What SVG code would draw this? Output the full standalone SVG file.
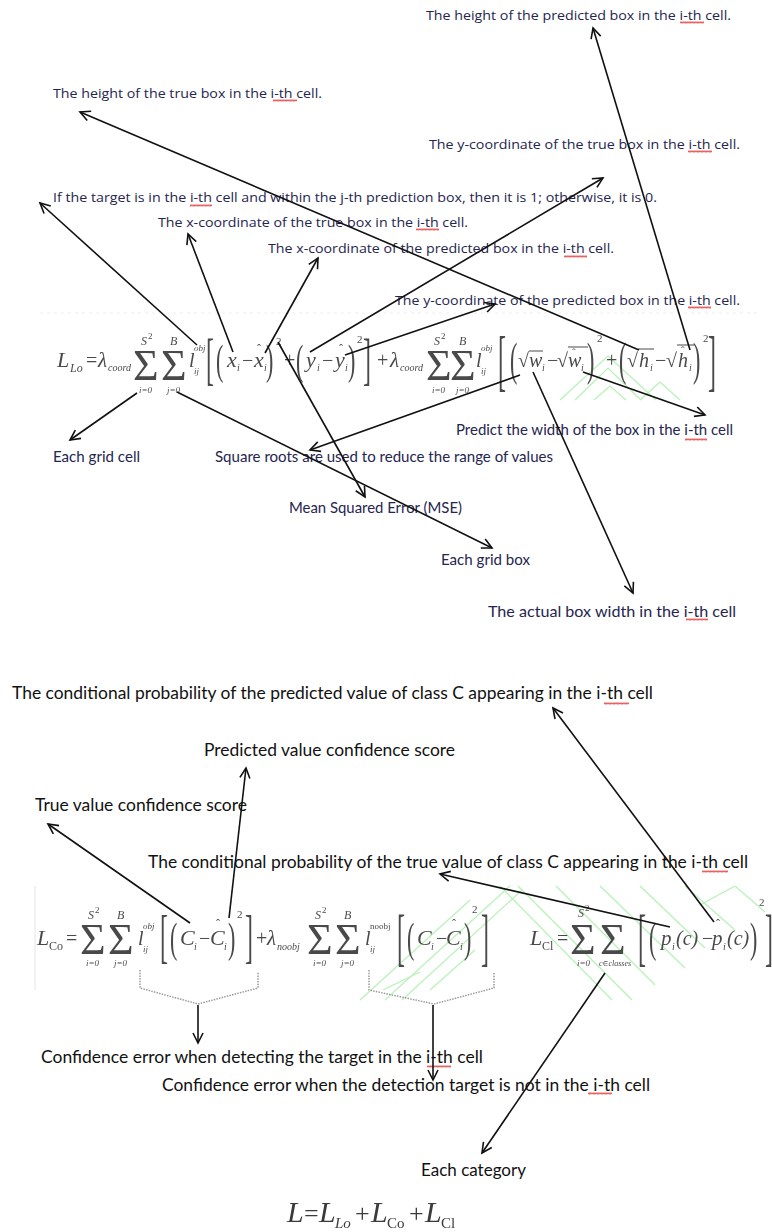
<svg xmlns="http://www.w3.org/2000/svg" width="772" height="1232" viewBox="0 0 772 1232">
<style>
.t1{font-family:"Open Sans","Noto Sans",sans-serif;font-size:13px;fill:#25254f}
.t2{font-family:Lato,"Liberation Sans",sans-serif;font-size:15px;fill:#25254f}
.t3{font-family:Lato,"Liberation Sans",sans-serif;font-size:16.5px;fill:#111}
.f text{font-family:"Liberation Serif","DejaVu Serif",serif;fill:#4a4a4a}
#formula-total text{fill:#3a3a3a}
.fi{font-style:italic}
.cn line{stroke:#111;stroke-width:1.6;fill:none}
.sq{fill:url(#wv)}
.gr{stroke:#b6f2b6;stroke-width:1.2;fill:none}
.brace{stroke:#9a9a9a;stroke-width:1.5;stroke-dasharray:1.5 1.2;fill:none}
.vin{stroke:#4a4a4a;stroke-width:1}
</style>
<defs>
<marker id="ah" markerWidth="14" markerHeight="14" refX="11" refY="6" orient="auto" markerUnits="userSpaceOnUse">
<path d="M1,1 L11,6 L1,11" fill="none" stroke="#111" stroke-width="1.6"/>
</marker>
<pattern id="wv" width="4" height="3" patternUnits="userSpaceOnUse">
<path d="M0,2.5 L1,0.5 L2,2.5 L3,0.5 L4,2.5" fill="none" stroke="#e23a3a" stroke-width="0.8"/>
</pattern>
<filter id="soft"><feGaussianBlur stdDeviation="0.35"/></filter>
</defs>
<rect width="772" height="1232" fill="#fff"/>

<!-- faint green watermark lines -->
<g id="watermark">
<polyline class="gr" points="560,400 608,356 656,400"/>
<polyline class="gr" points="575,400 608,368 641,400"/>
<polyline class="gr" points="594,400 610,386 626,400"/>
<polyline class="gr" points="640,400 660,382 680,400"/>
<line class="gr" x1="360" y1="1000" x2="470" y2="900"/>
<line class="gr" x1="385" y1="1000" x2="510" y2="886"/>
<line class="gr" x1="402" y1="1000" x2="522" y2="890"/>
<line class="gr" x1="430" y1="990" x2="475" y2="950"/>
<line class="gr" x1="500" y1="886" x2="612" y2="1000"/>
<line class="gr" x1="518" y1="886" x2="632" y2="1000"/>
<line class="gr" x1="556" y1="886" x2="655" y2="985"/>
<line class="gr" x1="600" y1="886" x2="685" y2="968"/>
<line class="gr" x1="640" y1="886" x2="705" y2="948"/>
<line class="gr" x1="685" y1="886" x2="735" y2="930"/>
<line class="gr" x1="735" y1="886" x2="765" y2="912"/>
<line class="gr" x1="700" y1="905" x2="735" y2="886"/>
<line class="gr" x1="383" y1="990" x2="420" y2="972"/>
</g>

<!-- formula image frames -->
<line x1="35" y1="886" x2="35" y2="990" stroke="#e4e4e4" stroke-width="1"/>
<line x1="40" y1="313" x2="760" y2="313" stroke="#eeeeee" stroke-width="1" stroke-dasharray="3 4"/>

<!-- Formula 1: localization loss -->
<g id="formula-loc" class="f" filter="url(#soft)">
<text x="57" y="367" class="fi" font-size="22">L</text>
<text x="70" y="372" class="fi" font-size="12">Lo</text>
<text x="86" y="367" font-size="20">=</text>
<text x="98" y="367" class="fi" font-size="21">λ</text>
<text x="108" y="371" class="fi" font-size="10">coord</text>
<text x="133" y="380" font-size="44">Σ</text>
<text x="141" y="345" class="fi" font-size="12">S</text><text x="148" y="339" font-size="9">2</text>
<text x="139" y="393" class="fi" font-size="9">i=0</text>
<text x="161" y="380" font-size="44">Σ</text>
<text x="170" y="345" class="fi" font-size="12">B</text>
<text x="167" y="393" class="fi" font-size="9">j=0</text>
<text x="189" y="367" class="fi" font-size="20">l</text>
<text x="194" y="374" class="fi" font-size="9">ij</text>
<text x="194" y="351" class="fi" font-size="9">obj</text>
<text transform="translate(206,378) scale(1,2.35)" font-size="24">[</text>
<text transform="translate(216,374) scale(1,1.95)" font-size="22">(</text>
<text x="227" y="367" class="fi" font-size="22">x</text>
<text x="237" y="371" class="fi" font-size="10">i</text>
<text x="242" y="367" font-size="20">−</text>
<text x="254" y="367" class="fi" font-size="22">x</text>
<text x="257" y="353" font-size="12">ˆ</text>
<text x="264" y="371" class="fi" font-size="10">i</text>
<text transform="translate(266,374) scale(1,1.95)" font-size="22">)</text>
<text x="276" y="345" font-size="11">2</text>
<text x="284" y="367" font-size="20">+</text>
<text transform="translate(296,374) scale(1,1.95)" font-size="22">(</text>
<text x="306" y="367" class="fi" font-size="22">y</text>
<text x="317" y="371" class="fi" font-size="10">i</text>
<text x="322" y="367" font-size="20">−</text>
<text x="335" y="367" class="fi" font-size="22">y</text>
<text x="339" y="353" font-size="12">ˆ</text>
<text x="345" y="371" class="fi" font-size="10">i</text>
<text transform="translate(348,374) scale(1,1.95)" font-size="22">)</text>
<text x="357" y="343" font-size="11">2</text>
<text transform="translate(363,378) scale(1,2.35)" font-size="24">]</text>
<text x="377" y="367" font-size="20">+</text>
<text x="390" y="367" class="fi" font-size="21">λ</text>
<text x="400" y="371" class="fi" font-size="10">coord</text>
<text x="426" y="380" font-size="44">Σ</text>
<text x="434" y="345" class="fi" font-size="12">S</text><text x="441" y="339" font-size="9">2</text>
<text x="432" y="393" class="fi" font-size="9">i=0</text>
<text x="450" y="380" font-size="44">Σ</text>
<text x="459" y="345" class="fi" font-size="12">B</text>
<text x="456" y="393" class="fi" font-size="9">j=0</text>
<text x="476" y="367" class="fi" font-size="20">l</text>
<text x="481" y="374" class="fi" font-size="9">ij</text>
<text x="481" y="351" class="fi" font-size="9">obj</text>
<text transform="translate(498,383) scale(1,2.8)" font-size="24">[</text>
<text transform="translate(510,375) scale(1,2.1)" font-size="22">(</text>
<text x="518" y="367" font-size="20">√</text>
<line class="vin" x1="529" y1="351" x2="543" y2="351"/>
<text x="529" y="367" class="fi" font-size="20">w</text>
<text x="542" y="371" class="fi" font-size="10">i</text>
<text x="547" y="367" font-size="20">−</text>
<text x="557" y="367" font-size="20">√</text>
<line class="vin" x1="568" y1="347" x2="588" y2="347"/>
<text x="568" y="367" class="fi" font-size="20">w</text>
<text x="572" y="356" font-size="11">ˆ</text>
<text x="581" y="371" class="fi" font-size="10">i</text>
<text transform="translate(587,375) scale(1,2.1)" font-size="22">)</text>
<text x="597" y="342" font-size="11">2</text>
<text x="606" y="367" font-size="20">+</text>
<text transform="translate(619,375) scale(1,2.1)" font-size="22">(</text>
<text x="627" y="367" font-size="20">√</text>
<line class="vin" x1="638" y1="349" x2="654" y2="349"/>
<text x="639" y="367" class="fi" font-size="20">h</text>
<text x="650" y="371" class="fi" font-size="10">i</text>
<text x="655" y="367" font-size="20">−</text>
<text x="666" y="367" font-size="20">√</text>
<line class="vin" x1="677" y1="345" x2="694" y2="345"/>
<text x="678" y="367" class="fi" font-size="20">h</text>
<text x="681" y="354" font-size="11">ˆ</text>
<text x="689" y="371" class="fi" font-size="10">i</text>
<text transform="translate(693,375) scale(1,2.1)" font-size="22">)</text>
<text x="703" y="342" font-size="11">2</text>
<text transform="translate(708,383) scale(1,2.8)" font-size="24">]</text>
</g>

<!-- Formula 2: confidence + class loss -->
<g id="formula-conf" class="f" filter="url(#soft)">
<text x="37" y="945" class="fi" font-size="22">L</text>
<text x="49" y="950" font-size="12">Co</text>
<text x="66" y="945" font-size="20">=</text>
<text x="80" y="954" font-size="44">Σ</text>
<text x="88" y="919" class="fi" font-size="12">S</text><text x="95" y="913" font-size="9">2</text>
<text x="86" y="966" class="fi" font-size="9">i=0</text>
<text x="108" y="954" font-size="44">Σ</text>
<text x="117" y="919" class="fi" font-size="12">B</text>
<text x="114" y="966" class="fi" font-size="9">j=0</text>
<text x="138" y="945" class="fi" font-size="20">l</text>
<text x="143" y="952" class="fi" font-size="9">ij</text>
<text x="143" y="929" class="fi" font-size="9">obj</text>
<text transform="translate(160,956) scale(1,2.45)" font-size="24">[</text>
<text transform="translate(170,952) scale(1,1.95)" font-size="22">(</text>
<text x="180" y="945" class="fi" font-size="22">C</text>
<text x="194" y="950" class="fi" font-size="10">i</text>
<text x="199" y="945" font-size="20">−</text>
<text x="210" y="945" class="fi" font-size="22">C</text>
<text x="216" y="928" font-size="12">ˆ</text>
<text x="224" y="950" class="fi" font-size="10">i</text>
<text transform="translate(228,952) scale(1,1.95)" font-size="22">)</text>
<text x="237" y="918" font-size="11">2</text>
<text transform="translate(245,956) scale(1,2.45)" font-size="24">]</text>
<text x="256" y="945" font-size="20">+</text>
<text x="267" y="945" class="fi" font-size="21">λ</text>
<text x="277" y="950" class="fi" font-size="10">noobj</text>
<text x="307" y="954" font-size="44">Σ</text>
<text x="315" y="919" class="fi" font-size="12">S</text><text x="322" y="913" font-size="9">2</text>
<text x="313" y="966" class="fi" font-size="9">i=0</text>
<text x="335" y="954" font-size="44">Σ</text>
<text x="344" y="919" class="fi" font-size="12">B</text>
<text x="341" y="966" class="fi" font-size="9">j=0</text>
<text x="365" y="945" class="fi" font-size="20">l</text>
<text x="370" y="952" class="fi" font-size="9">ij</text>
<text x="370" y="929" font-size="9">noobj</text>
<text transform="translate(397,958) scale(1,2.6)" font-size="24">[</text>
<text transform="translate(407,952) scale(1,1.95)" font-size="22">(</text>
<text x="417" y="945" class="fi" font-size="22">C</text>
<text x="431" y="950" class="fi" font-size="10">i</text>
<text x="436" y="945" font-size="20">−</text>
<text x="446" y="945" class="fi" font-size="22">C</text>
<text x="452" y="928" font-size="12">ˆ</text>
<text x="460" y="950" class="fi" font-size="10">i</text>
<text transform="translate(464,952) scale(1,1.95)" font-size="22">)</text>
<text x="472" y="913" font-size="11">2</text>
<text transform="translate(481,958) scale(1,2.6)" font-size="24">]</text>
<text x="530" y="945" class="fi" font-size="22">L</text>
<text x="542" y="950" font-size="12">Cl</text>
<text x="557" y="945" font-size="20">=</text>
<text x="570" y="954" font-size="44">Σ</text>
<text x="578" y="917" class="fi" font-size="12">S</text><text x="585" y="911" font-size="9">2</text>
<text x="577" y="966" class="fi" font-size="9">i=0</text>
<text x="600" y="954" font-size="44">Σ</text>
<text x="599" y="966" class="fi" font-size="8">c∈classes</text>
<text transform="translate(638,958) scale(1,2.6)" font-size="24">[</text>
<text transform="translate(649,952) scale(1,1.95)" font-size="22">(</text>
<text x="661" y="945" class="fi" font-size="21">p</text>
<text x="672" y="950" class="fi" font-size="10">i</text>
<text x="676" y="945" class="fi" font-size="20">(c)</text>
<text x="702" y="945" font-size="20">−</text>
<text x="712" y="945" class="fi" font-size="21">p</text>
<text x="716" y="928" font-size="12">ˆ</text>
<text x="723" y="950" class="fi" font-size="10">i</text>
<text x="727" y="945" class="fi" font-size="20">(c)</text>
<text transform="translate(750,952) scale(1,1.95)" font-size="22">)</text>
<text x="759" y="906" font-size="11">2</text>
<text transform="translate(765,958) scale(1,2.6)" font-size="24">]</text>
</g>

<!-- Formula 3: total -->
<g id="formula-total" class="f" filter="url(#soft)">
<text x="287" y="1222" class="fi" font-size="30">L</text>
<text x="304" y="1222" font-size="26">=</text>
<text x="319" y="1222" class="fi" font-size="30">L</text>
<text x="335" y="1228" class="fi" font-size="15">Lo</text>
<text x="355" y="1222" font-size="26">+</text>
<text x="371" y="1222" class="fi" font-size="30">L</text>
<text x="387" y="1228" font-size="15">Co</text>
<text x="409" y="1222" font-size="26">+</text>
<text x="425" y="1222" class="fi" font-size="30">L</text>
<text x="441" y="1228" font-size="15">Cl</text>
</g>

<!-- braces -->
<g id="braces">
<polyline class="brace" points="140,970 140,988 198,1004 258,988 258,972"/>
<polyline class="brace" points="369,970 369,990 434,1004 494,988 494,972"/>
</g>

<!-- labels -->
<g id="lbl-h-pred"><text class="t1" x="426" y="20" textLength="305" lengthAdjust="spacingAndGlyphs">The height of the predicted box in the i-th cell.</text><rect class="sq" x="680" y="21" width="24" height="3"/></g>
<g id="lbl-h-true"><text class="t1" x="53" y="98" textLength="269" lengthAdjust="spacingAndGlyphs">The height of the true box in the i-th cell.</text><rect class="sq" x="273" y="99" width="24" height="3"/></g>
<g id="lbl-y-true"><text class="t1" x="429" y="149" textLength="311" lengthAdjust="spacingAndGlyphs">The y-coordinate of the true box in the i-th cell.</text><rect class="sq" x="688" y="150" width="24" height="3"/></g>
<g id="lbl-indicator"><text class="t1" x="53" y="202" textLength="604" lengthAdjust="spacingAndGlyphs">If the target is in the i-th cell and within the j-th prediction box, then it is 1; otherwise, it is 0.</text><rect class="sq" x="190" y="204" width="22" height="3"/></g>
<g id="lbl-x-true"><text class="t1" x="158" y="227" textLength="310" lengthAdjust="spacingAndGlyphs">The x-coordinate of the true box in the i-th cell.</text><rect class="sq" x="416" y="228" width="23" height="3"/></g>
<g id="lbl-x-pred"><text class="t1" x="268" y="253" textLength="346" lengthAdjust="spacingAndGlyphs">The x-coordinate of the predicted box in the i-th cell.</text><rect class="sq" x="564" y="255" width="23" height="3"/></g>
<g id="lbl-y-pred"><text class="t1" x="395" y="305" textLength="345" lengthAdjust="spacingAndGlyphs">The y-coordinate of the predicted box in the i-th cell.</text><rect class="sq" x="688" y="306" width="23" height="3"/></g>
<g id="lbl-w-pred"><text class="t2" x="456" y="435" textLength="277" lengthAdjust="spacingAndGlyphs">Predict the width of the box in the i-th cell</text><rect class="sq" x="685" y="438" width="22" height="3"/></g>
<g id="lbl-grid-cell"><text class="t2" x="53" y="462" textLength="87" lengthAdjust="spacingAndGlyphs">Each grid cell</text></g>
<g id="lbl-sqrt"><text class="t2" x="215" y="462" textLength="338" lengthAdjust="spacingAndGlyphs">Square roots are used to reduce the range of values</text></g>
<g id="lbl-mse"><text class="t2" x="289" y="513" textLength="173" lengthAdjust="spacingAndGlyphs">Mean Squared Error (MSE)</text></g>
<g id="lbl-grid-box"><text class="t2" x="441" y="565" textLength="89" lengthAdjust="spacingAndGlyphs">Each grid box</text></g>
<g id="lbl-w-true"><text class="t2" x="488" y="617" textLength="248" lengthAdjust="spacingAndGlyphs">The actual box width in the i-th cell</text><rect class="sq" x="686" y="618" width="22" height="3"/></g>
<g id="lbl-p-pred"><text class="t3" x="12" y="699" textLength="641" lengthAdjust="spacingAndGlyphs">The conditional probability of the predicted value of class C appearing in the i-th cell</text><rect class="sq" x="604" y="702" width="25" height="3"/></g>
<g id="lbl-c-pred"><text class="t3" x="204" y="756" textLength="251" lengthAdjust="spacingAndGlyphs">Predicted value confidence score</text></g>
<g id="lbl-c-true"><text class="t3" x="35" y="811" textLength="212" lengthAdjust="spacingAndGlyphs">True value confidence score</text></g>
<g id="lbl-p-true"><text class="t3" x="148" y="868" textLength="600" lengthAdjust="spacingAndGlyphs">The conditional probability of the true value of class C appearing in the i-th cell</text><rect class="sq" x="702" y="870" width="26" height="3"/></g>
<g id="lbl-conf-obj"><text class="t3" x="41" y="1063" textLength="442" lengthAdjust="spacingAndGlyphs">Confidence error when detecting the target in the i-th cell</text><rect class="sq" x="427" y="1065" width="24" height="3"/></g>
<g id="lbl-conf-noobj"><text class="t3" x="162" y="1091" textLength="488" lengthAdjust="spacingAndGlyphs">Confidence error when the detection target is not in the i-th cell</text><rect class="sq" x="588" y="1092" width="24" height="3"/></g>
<g id="lbl-category"><text class="t3" x="421" y="1176" textLength="105" lengthAdjust="spacingAndGlyphs">Each category</text></g>

<!-- connectors -->
<g id="connectors" class="cn">
<line x1="690" y1="350" x2="593" y2="28" marker-end="url(#ah)"/>
<line x1="639" y1="350" x2="80" y2="112" marker-end="url(#ah)"/>
<line x1="310" y1="352" x2="603" y2="178" marker-end="url(#ah)"/>
<line x1="197" y1="345" x2="40" y2="203" marker-end="url(#ah)"/>
<line x1="233" y1="352" x2="188" y2="234" marker-end="url(#ah)"/>
<line x1="265" y1="353" x2="318" y2="258" marker-end="url(#ah)"/>
<line x1="345" y1="355" x2="495" y2="304" marker-end="url(#ah)"/>
<line x1="583" y1="372" x2="705" y2="415" marker-end="url(#ah)"/>
<line x1="520" y1="375" x2="310" y2="450" marker-end="url(#ah)"/>
<line x1="137" y1="393" x2="70" y2="440" marker-end="url(#ah)"/>
<line x1="177" y1="392" x2="492" y2="548" marker-end="url(#ah)"/>
<line x1="278" y1="342" x2="365" y2="497" marker-end="url(#ah)"/>
<line x1="533" y1="372" x2="633" y2="593" marker-end="url(#ah)"/>
<line x1="714" y1="922" x2="553" y2="708" marker-end="url(#ah)"/>
<line x1="229" y1="918" x2="246" y2="768" marker-end="url(#ah)"/>
<line x1="190" y1="923" x2="48" y2="824" marker-end="url(#ah)"/>
<line x1="670" y1="927" x2="440" y2="874" marker-end="url(#ah)"/>
<line x1="605" y1="973" x2="482" y2="1153" marker-end="url(#ah)"/>
<line x1="198" y1="1005" x2="198" y2="1043" marker-end="url(#ah)"/>
<line x1="433" y1="1005" x2="433" y2="1080" marker-end="url(#ah)"/>
</g>
</svg>
